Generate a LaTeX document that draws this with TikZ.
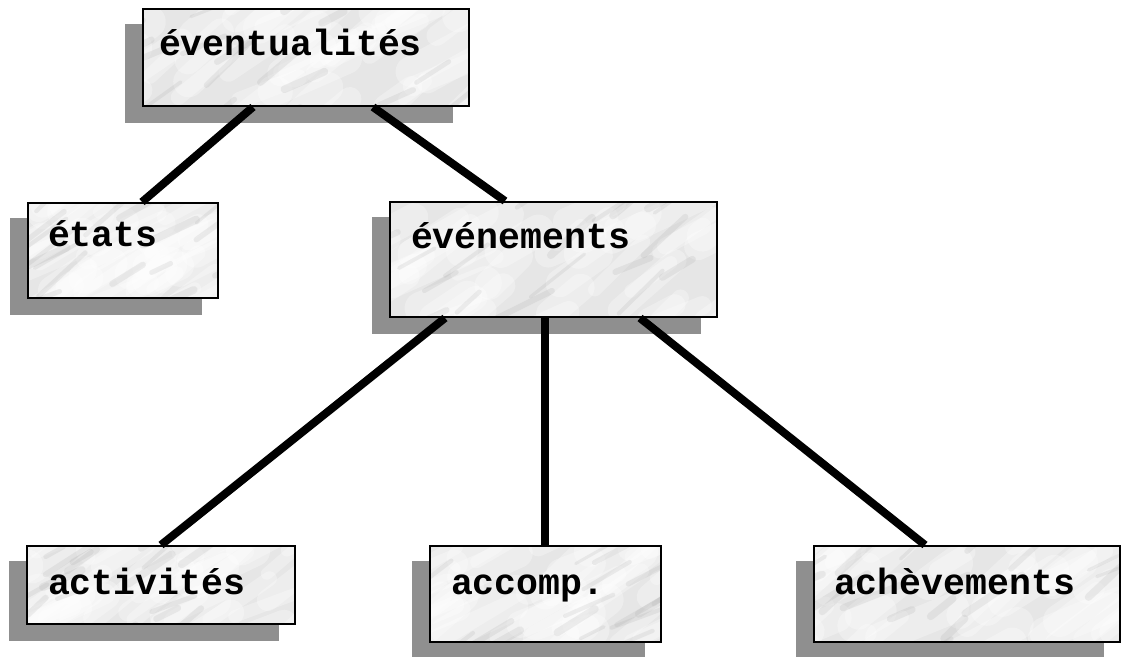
\documentclass[tikz,border=0pt]{standalone}
\usepackage{fontspec}
\setmonofont{Liberation Mono}
\usetikzlibrary{backgrounds}

\definecolor{shadowgray}{HTML}{8F8F8F}
\definecolor{marblebase}{HTML}{E6E6E6}
\definecolor{veingray}{HTML}{9A9A9A}

% marble texture filling the current node's box
\newcommand\marbleveins[1]{%
  \pgfmathsetseed{#1}%
  \pgfpointanchor{path picture bounding box}{south west}\pgfgetlastxy{\mx}{\my}%
  \pgfpointanchor{path picture bounding box}{north east}\pgfgetlastxy{\Mx}{\My}%
  \fill[marblebase] (\mx,\my) rectangle (\Mx,\My);
  \foreach \k in {1,...,45}{%
    \pgfmathsetmacro{\ux}{\mx+(rnd*1.2-0.2)*(\Mx-\mx)}%
    \pgfmathsetmacro{\uy}{\my+(rnd*1.2-0.2)*(\My-\my)}%
    \pgfmathsetmacro{\len}{25+rnd*60}%
    \pgfmathsetmacro{\wd}{12+rnd*22}%
    \pgfmathsetmacro{\ang}{20+rnd*25}%
    \draw[white, line width=\wd pt, line cap=round, opacity=0.3]
      (\ux pt,\uy pt) -- ++(\ang:\len pt);
  }%
  \foreach \k in {1,...,18}{%
    \pgfmathsetmacro{\ux}{\mx+(rnd*1.2-0.2)*(\Mx-\mx)}%
    \pgfmathsetmacro{\uy}{\my+(rnd*1.2-0.2)*(\My-\my)}%
    \pgfmathsetmacro{\len}{20+rnd*50}%
    \pgfmathsetmacro{\wd}{3+rnd*5}%
    \pgfmathsetmacro{\ang}{20+rnd*25}%
    \draw[veingray, line width=\wd pt, line cap=round, opacity=0.15]
      (\ux pt,\uy pt) -- ++(\ang:\len pt);
  }%
}

\tikzset{
  marblebox/.style={draw=black, line width=2pt, anchor=north west,
    inner ysep=0pt, align=left, text=black,
    font=\ttfamily\bfseries\fontsize{36.5}{40}\selectfont,
    path picture={\marbleveins{#1}}},
  boxsize/.style n args={4}{inner xsep=#1pt, text width=#2pt,
    text height=#3pt, text depth=#4pt},
  link/.style={line width=8pt, black},
  shade box/.style={fill=shadowgray}
}

\begin{document}
\begin{tikzpicture}[x=1pt, y=-1pt]
  \useasboundingbox (0,0) rectangle (1121,656);

  % boxes
  \node[marblebox=3, boxsize={16}{294}{46}{51}] (ev)  at (142,8)   {éventualités};
  \node[marblebox=5, boxsize={20}{150}{43}{52}] (eta) at (27,202)  {états};
  \node[marblebox=8, boxsize={21}{285}{46}{69}] (evn) at (389,201) {événements};
  \node[marblebox=11,boxsize={21}{226}{48}{30}] (act) at (26,545)  {activités};
  \node[marblebox=13,boxsize={21}{189}{48}{48}] (acc) at (429,545) {accomp.};
  \node[marblebox=17,boxsize={20}{266}{48}{48}] (ach) at (813,545) {achèvements};

  % drop shadows
  \begin{scope}[on background layer]
    \foreach \b in {ev,eta,evn,act,acc,ach}{
      \fill[shade box] ([shift={(-17,16)}]\b.north west)
                   rectangle ([shift={(-17,16)}]\b.south east);
    }
  \end{scope}

  % connectors
  \draw[link] ([xshift=111pt]ev.south west) -- ([xshift=115pt]eta.north west);
  \draw[link] ([xshift=231pt]ev.south west) -- ([xshift=116pt]evn.north west);
  \draw[link] ([xshift=56pt]evn.south west)  -- ([xshift=135pt]act.north west);
  \draw[link] ([xshift=156pt]evn.south west) -- ([xshift=116pt]acc.north west);
  \draw[link] ([xshift=251pt]evn.south west) -- ([xshift=112pt]ach.north west);
\end{tikzpicture}
\end{document}
